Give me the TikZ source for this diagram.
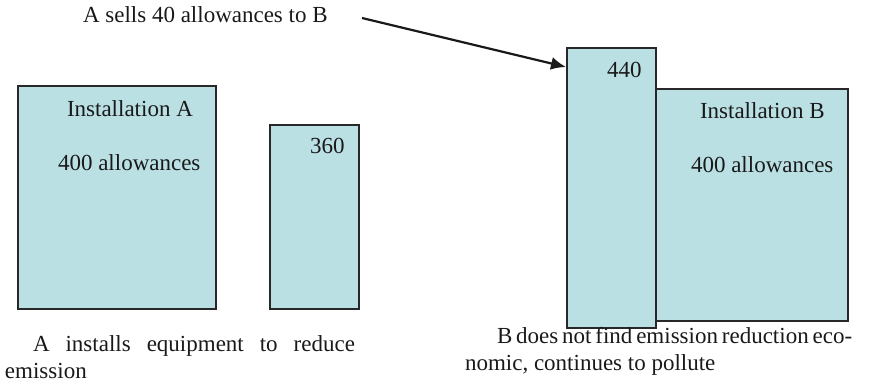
\documentclass[tikz,border=0pt]{standalone}
\usepackage{fontspec}
\setmainfont{Liberation Serif}
\usetikzlibrary{arrows.meta}
\definecolor{boxfill}{RGB}{186,224,228}
\definecolor{boxline}{RGB}{40,40,40}
\tikzset{
  bar/.style={draw=boxline, fill=boxfill, line width=1.6pt, inner sep=0pt, minimum width=0pt, minimum height=0pt},
  lbl/.style={anchor=base west, inner sep=0pt, outer sep=0pt, font=\fontsize{23}{27}\selectfont, text=black!90}
}
\begin{document}
\begin{tikzpicture}[x=1pt,y=-1pt]
\useasboundingbox (0,0) rectangle (887,386);
% boxes
\node[bar, minimum width=198pt, minimum height=223pt, anchor=north west] (boxA) at (17,85) {};
\node[bar, minimum width=89pt, minimum height=184pt, anchor=north west] (box360) at (269,124) {};
\node[bar, minimum width=192pt, minimum height=232pt, anchor=north west] (boxB) at (655,88) {};
\node[bar, minimum width=89pt, minimum height=280pt, anchor=north west] (box440) at (566,47) {};
% labels
\node[lbl] (tA) at (67,116) {Installation A};
\node[lbl] (aA) at (58,170) {400 allowances};
\node[lbl] (t360) at (310,153) {360};
\node[lbl] (t440) at (607,77) {440};
\node[lbl] (tB) at (700,118) {Installation B};
\node[lbl] (aB) at (691,172) {400 allowances};
\node[lbl] (sell) at (83,22) {A sells 40 allowances to B};
% captions
\node[lbl] (capA1) at (33,351) {\makebox[322pt][s]{A installs equipment to reduce}};
\node[lbl] (capA2) at (5,378) {emission};
\node[lbl] (capB1) at (497,343) {\makebox[353pt][s]{B does not find emission reduction eco-}};
\node[lbl] (capB2) at (465,370) {nomic, continues to pollute};
% arrow
\coordinate (arrS) at (362,18);
\coordinate (arrT) at (box440.north west |- 0,67);
\draw[line width=2.2pt, -{Latex[length=15pt,width=13pt]}, black!90] (arrS) -- (arrT);
\end{tikzpicture}
\end{document}
